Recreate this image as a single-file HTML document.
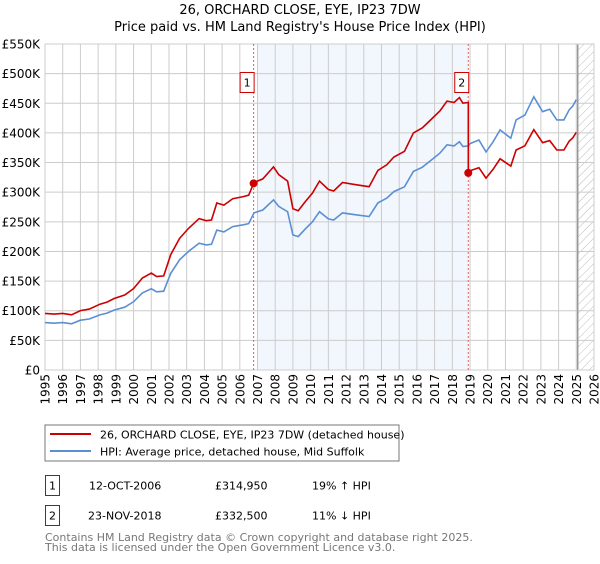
<!DOCTYPE html>
<html><head><meta charset="utf-8"><style>
body{margin:0;background:#fff;font-family:"DejaVu Sans","Liberation Sans",sans-serif;}
svg text{font-family:"DejaVu Sans","Liberation Sans",sans-serif;}
</style></head><body>
<svg id="chart" width="600" height="560" viewBox="0 0 600 560">
<defs><pattern id="hatch" width="6" height="6" patternUnits="userSpaceOnUse" patternTransform="rotate(45)"><line x1="0" y1="0" x2="0" y2="6" stroke="#bbb" stroke-width="1"/></pattern></defs>
<text x="300" y="14" text-anchor="middle" font-size="13" fill="#000">26, ORCHARD CLOSE, EYE, IP23 7DW</text>
<text x="300" y="31" text-anchor="middle" font-size="13" fill="#000">Price paid vs. HM Land Registry's House Price Index (HPI)</text>
<g id="grid"></g><g id="marks"></g><g id="axes"></g>
<rect x="45" y="425" width="354" height="36" fill="#fff" stroke="#777"/>
<line x1="50" y1="434" x2="91" y2="434" stroke="#cc0000" stroke-width="2"/>
<text x="100" y="438.5" font-size="11">26, ORCHARD CLOSE, EYE, IP23 7DW (detached house)</text>
<line x1="50" y1="451" x2="91" y2="451" stroke="#5b8fd4" stroke-width="2"/>
<text x="100" y="455.5" font-size="11">HPI: Average price, detached house, Mid Suffolk</text>
<g font-size="11">
<rect x="45.5" y="475.5" width="14" height="20" fill="#fff" stroke="#cc0000"/>
<text x="52.5" y="489.5" text-anchor="middle">1</text>
<text x="89" y="489.5">12-OCT-2006</text><text x="215" y="489.5">£314,950</text><text x="312" y="489.5">19% ↑ HPI</text>
<rect x="45.5" y="505.5" width="14" height="20" fill="#fff" stroke="#cc0000"/>
<text x="52.5" y="519.5" text-anchor="middle">2</text>
<text x="88" y="519.5">23-NOV-2018</text><text x="215" y="519.5">£332,500</text><text x="312" y="519.5">11% ↓ HPI</text>
</g>
<text x="45" y="541" font-size="11" fill="#777">Contains HM Land Registry data © Crown copyright and database right 2025.</text>
<text x="45" y="551" font-size="11" fill="#777">This data is licensed under the Open Government Licence v3.0.</text>
</svg>
<script>
const hpiYears=[1995.0,1995.5,1996.0,1996.5,1997.0,1997.5,1998.1,1998.5,1998.9,1999.5,2000.0,2000.5,2001.0,2001.3,2001.7,2002.1,2002.6,2003.1,2003.7,2004.1,2004.4,2004.7,2005.1,2005.6,2006.2,2006.5,2006.8,2007.3,2007.9,2008.2,2008.7,2009.0,2009.3,2009.7,2010.1,2010.5,2011.0,2011.3,2011.8,2012.5,2013.3,2013.8,2014.3,2014.7,2015.3,2015.8,2016.3,2016.8,2017.3,2017.7,2018.1,2018.4,2018.6,2018.9,2019.0,2019.5,2019.9,2020.3,2020.7,2021.3,2021.6,2022.1,2022.6,2023.1,2023.5,2023.9,2024.3,2024.6,2024.8,2025.0];
const hpiValues=[80,79,80,78,84,86,93,96,101,106,115,130,137,132,133,163,186,200,214,211,212,236,233,242,245,247,265,270,287,276,267,228,225,238,250,267,255,253,265,262,259,282,290,301,309,335,342,354,366,380,378,385,377,378,382,388,368,385,405,391,422,430,461,436,440,422,422,439,445,456];
const sale1Year=2006.78, sale1Price=314950;
const sale2Year=2018.9, sale2Price=332500;
const yTicks=[0,50,100,150,200,250,300,350,400,450,500,550];
const xTicks=[1995,1996,1997,1998,1999,2000,2001,2002,2003,2004,2005,2006,2007,2008,2009,2010,2011,2012,2013,2014,2015,2016,2017,2018,2019,2020,2021,2022,2023,2024,2025,2026];
const NS='http://www.w3.org/2000/svg';
const X0=45,X1=594,Y0=370,Y1=44;
const xs=y=>X0+(y-1995)/(2026-1995)*(X1-X0);
const ys=v=>Y0-v/550*(Y0-Y1);
function mk(tag,attrs,parent){const e=document.createElementNS(NS,tag);for(const k in attrs)e.setAttribute(k,attrs[k]);parent.appendChild(e);return e;}
const grid=document.getElementById('grid'),marks=document.getElementById('marks'),axes=document.getElementById('axes');
const band=mk('rect',{x:xs(sale1Year)+4,y:Y1,width:xs(sale2Year)-xs(sale1Year)-4,height:Y0-Y1,fill:'#eef3fc',opacity:0.75},grid);


const hatch=mk('rect',{x:xs(2025.08),y:Y1,width:X1-xs(2025.08),height:Y0-Y1,fill:'url(#hatch)'},grid);


yTicks.forEach(t=>{
 const l=mk('line',{x1:X0,x2:X1,y1:ys(t),y2:ys(t),stroke:'#ccc'},grid);
 
 
 const tx=mk('text',{x:40,y:ys(t)+4.5,'text-anchor':'end','font-size':'12'},axes);
 tx.textContent=t===0?'£0':'£'+t+'K';
 
 
});
xTicks.forEach(t=>{
 const l=mk('line',{x1:xs(t),x2:xs(t),y1:Y1,y2:Y0,stroke:'#ccc'},grid);
 
 
 const tx=mk('text',{x:0,y:0,'text-anchor':'end','font-size':'12',transform:`translate(${xs(t)+4.5},374) rotate(-90)`},axes);
 tx.textContent=t;
 
 
});
const v2025=mk('line',{x1:xs(2025.08),x2:xs(2025.08),y1:Y1,y2:Y0,stroke:'#999','stroke-width':1.5},grid);


const pa=mk('rect',{x:X0,y:Y1,width:X1-X0,height:Y0-Y1,fill:'none',stroke:'#ccc'},grid);


[[sale1Year,'1'],[sale2Year,'2']].forEach(([yr,lab])=>{
 const l=mk('line',{x1:xs(yr),x2:xs(yr),y1:Y1,y2:Y0,stroke:'#e06060','stroke-dasharray':'2,2'},marks);
 
 
});
function interp(yr){for(let i=1;i<hpiYears.length;i++){if(yr<=hpiYears[i]){const f=(yr-hpiYears[i-1])/(hpiYears[i]-hpiYears[i-1]);return hpiValues[i-1]+f*(hpiValues[i]-hpiValues[i-1]);}}return hpiValues[hpiValues.length-1];}
const r1=sale1Price/1000/interp(sale1Year), r2=sale2Price/1000/interp(sale2Year);
const bp=hpiYears.map((y,i)=>`${i?'L':'M'}${xs(y).toFixed(1)},${ys(hpiValues[i]).toFixed(1)}`).join('');
const blue=mk('path',{d:bp,fill:'none',stroke:'#5b8fd4','stroke-width':1.6},marks);


let rp='';hpiYears.forEach((y,i)=>{if(y<sale2Year){rp+=`${rp?'L':'M'}${xs(y).toFixed(1)},${ys(hpiValues[i]*r1).toFixed(1)}`;}});
rp+=`L${xs(sale2Year).toFixed(1)},${ys(interp(sale2Year)*r1).toFixed(1)}L${xs(sale2Year).toFixed(1)},${ys(sale2Price/1000).toFixed(1)}`;
hpiYears.forEach((y,i)=>{if(y>sale2Year)rp+=`L${xs(y).toFixed(1)},${ys(hpiValues[i]*r2).toFixed(1)}`;});
const red=mk('path',{d:rp,fill:'none',stroke:'#cc0000','stroke-width':1.6},marks);


[[sale1Year,sale1Price,'1'],[sale2Year,sale2Price,'2']].forEach(([yr,p,lab])=>{
 const c=mk('circle',{cx:xs(yr),cy:ys(p/1000),r:4,fill:'#cc0000'},marks);
 
 
 const bx=mk('rect',{x:xs(yr)-13.5,y:72.5,width:14,height:20,fill:'#fff',stroke:'#cc0000'},marks);
 
 
 const t=mk('text',{x:xs(yr)-6.5,y:86.5,'text-anchor':'middle','font-size':'11'},marks);
 t.textContent=lab;
 
 
});
</script>
</body></html>
